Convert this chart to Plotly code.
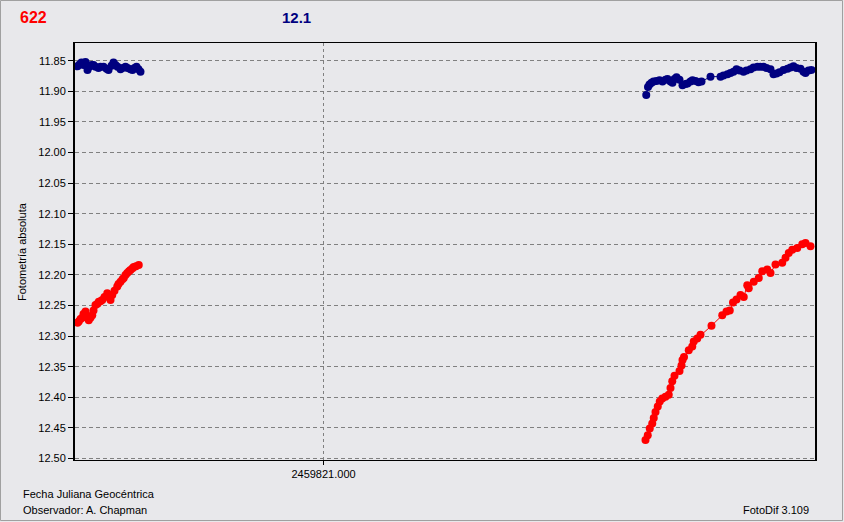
import plotly.graph_objects as go

# Comparison star (blue) and variable (red) photometry, Julian dates
jd_blue_1 = [2459820.9016, 2459820.9024, 2459820.9032, 2459820.9040, 2459820.9048,
             2459820.9056, 2459820.9064, 2459820.9072, 2459820.9080, 2459820.9088,
             2459820.9100, 2459820.9108, 2459820.9120, 2459820.9132, 2459820.9140,
             2459820.9152, 2459820.9160, 2459820.9168, 2459820.9176, 2459820.9188,
             2459820.9196, 2459820.9208, 2459820.9216, 2459820.9228, 2459820.9236,
             2459820.9244, 2459820.9252, 2459820.9260, 2459820.9268]
mag_blue_1 = [11.859, 11.856, 11.853, 11.857, 11.852, 11.865, 11.860, 11.857, 11.857,
              11.860, 11.862, 11.860, 11.860, 11.863, 11.865, 11.858, 11.853, 11.857,
              11.860, 11.864, 11.862, 11.860, 11.862, 11.864, 11.865, 11.862, 11.860,
              11.864, 11.868]

jd_blue_2 = [2459821.1291, 2459821.1298, 2459821.1304, 2459821.1312, 2459821.1320,
             2459821.1332, 2459821.1344, 2459821.1356, 2459821.1368, 2459821.1376,
             2459821.1388, 2459821.1396, 2459821.1404, 2459821.1412, 2459821.1424,
             2459821.1436, 2459821.1448, 2459821.1456, 2459821.1468, 2459821.1476,
             2459821.1488, 2459821.1500, 2459821.1512, 2459821.1548, 2459821.1588,
             2459821.1600, 2459821.1616, 2459821.1628, 2459821.1640, 2459821.1652,
             2459821.1664, 2459821.1680, 2459821.1692, 2459821.1708, 2459821.1720,
             2459821.1736, 2459821.1748, 2459821.1760, 2459821.1772, 2459821.1788,
             2459821.1800, 2459821.1812, 2459821.1824, 2459821.1840, 2459821.1856,
             2459821.1868, 2459821.1880, 2459821.1892, 2459821.1908, 2459821.1920,
             2459821.1928, 2459821.1940, 2459821.1952]
mag_blue_2 = [11.906, 11.893, 11.889, 11.886, 11.884, 11.883, 11.882, 11.884, 11.881,
              11.880, 11.884, 11.886, 11.880, 11.877, 11.881, 11.890, 11.888, 11.887,
              11.884, 11.882, 11.883, 11.885, 11.884, 11.876, 11.876, 11.874, 11.872,
              11.870, 11.868, 11.864, 11.866, 11.868, 11.866, 11.864, 11.861, 11.860,
              11.860, 11.860, 11.862, 11.864, 11.872, 11.871, 11.869, 11.865, 11.863,
              11.861, 11.859, 11.862, 11.863, 11.868, 11.870, 11.866, 11.865]

jd_red_1 = [2459820.9016, 2459820.9021, 2459820.9028, 2459820.9035, 2459820.9040,
            2459820.9048, 2459820.9056, 2459820.9061, 2459820.9068, 2459820.9075,
            2459820.9080, 2459820.9088, 2459820.9096, 2459820.9101, 2459820.9108,
            2459820.9115, 2459820.9124, 2459820.9135, 2459820.9142, 2459820.9148,
            2459820.9155, 2459820.9164, 2459820.9175, 2459820.9180, 2459820.9188,
            2459820.9196, 2459820.9201, 2459820.9208, 2459820.9215, 2459820.9222,
            2459820.9228, 2459820.9236, 2459820.9241, 2459820.9250, 2459820.9261]
mag_red_1 = [12.278, 12.276, 12.272, 12.270, 12.264, 12.260, 12.268, 12.274, 12.270,
             12.266, 12.258, 12.249, 12.247, 12.244, 12.243, 12.241, 12.236, 12.230,
             12.236, 12.241, 12.233, 12.226, 12.219, 12.215, 12.211, 12.207, 12.205,
             12.200, 12.197, 12.194, 12.192, 12.189, 12.187, 12.186, 12.184]

jd_red_2 = [2459821.1288, 2459821.1297, 2459821.1305, 2459821.1315, 2459821.1321,
            2459821.1328, 2459821.1337, 2459821.1345, 2459821.1355, 2459821.1368,
            2459821.1381, 2459821.1388, 2459821.1395, 2459821.1404, 2459821.1424,
            2459821.1432, 2459821.1436, 2459821.1442, 2459821.1461, 2459821.1475,
            2459821.1481, 2459821.1495, 2459821.1508, 2459821.1552, 2459821.1595,
            2459821.1612, 2459821.1625, 2459821.1638, 2459821.1652, 2459821.1668,
            2459821.1681, 2459821.1695, 2459821.1701, 2459821.1721, 2459821.1741,
            2459821.1755, 2459821.1775, 2459821.1788, 2459821.1808, 2459821.1835,
            2459821.1848, 2459821.1861, 2459821.1875, 2459821.1895, 2459821.1915,
            2459821.1928, 2459821.1948]
mag_red_2 = [12.470, 12.462, 12.451, 12.443, 12.434, 12.424, 12.415, 12.407, 12.402,
             12.399, 12.396, 12.385, 12.374, 12.365, 12.357, 12.348, 12.339, 12.334,
             12.323, 12.317, 12.309, 12.304, 12.298, 12.283, 12.266, 12.260, 12.258,
             12.245, 12.240, 12.233, 12.236, 12.217, 12.222, 12.211, 12.205, 12.194,
             12.191, 12.197, 12.183, 12.180, 12.172, 12.164, 12.159, 12.156, 12.150,
             12.148, 12.153]

x_tick_vals = [2459821.0]
x_tick_text = ["2459821.000"]
x_range = [2459820.9006, 2459821.1966]
y_range = [12.5025, 11.821]

BLUE = "#000080"
RED = "#ff0000"
BG = "#e8e8eb"
FONT = "Liberation Sans"

fig = go.Figure()
for xs, ys, c in [(jd_blue_1, mag_blue_1, BLUE), (jd_blue_2, mag_blue_2, BLUE),
                  (jd_red_1, mag_red_1, RED), (jd_red_2, mag_red_2, RED)]:
    fig.add_trace(go.Scatter(x=xs, y=ys, mode="lines+markers",
                             line=dict(color=c, width=1),
                             marker=dict(color=c, size=8, symbol="circle"),
                             showlegend=False, hoverinfo="x+y"))

L, R, T, B = 75, 815, 43, 460
W, H = 844, 522
def px(x):
    return (x - L) / (R - L)
def py(y):
    return (B - y) / (B - T)

fig.update_layout(
    width=W, height=H, autosize=False,
    margin=dict(l=L, r=W - R, t=T, b=H - B, pad=0),
    paper_bgcolor=BG, plot_bgcolor=BG,
    font=dict(family=FONT, size=11, color="#000000"),
    xaxis=dict(range=x_range, tickvals=x_tick_vals, ticktext=x_tick_text,
               showgrid=True, gridcolor="#808080", griddash="3px,3px", gridwidth=1,
               zeroline=False, showline=True, linecolor="#000000", linewidth=1,
               mirror=True, ticks="outside", ticklen=4, tickcolor="#000000",
               tickfont=dict(family=FONT, size=11)),
    yaxis=dict(range=y_range, dtick=0.05, tick0=11.85, tickformat=".2f",
               showgrid=True, gridcolor="#808080", griddash="4px,3px", gridwidth=1,
               zeroline=False, showline=True, linecolor="#000000", linewidth=2,
               mirror=True, ticks="outside", ticklen=5, tickcolor="#000000",
               tickfont=dict(family=FONT, size=11)),
)

ann = [
    dict(text="<b>622</b>", x=px(18), y=py(18), xanchor="left", yanchor="middle",
         font=dict(family=FONT, size=16, color=RED)),
    dict(text="<b>12.1</b>", x=px(280), y=py(18), xanchor="left", yanchor="middle",
         font=dict(family=FONT, size=15, color=BLUE)),
    dict(text="Fotometría absoluta", x=px(22), y=py(252), xanchor="center", yanchor="middle",
         textangle=-90, font=dict(family=FONT, size=11, color="#000000")),
    dict(text="Fecha Juliana Geocéntrica", x=px(21), y=py(494), xanchor="left", yanchor="middle",
         font=dict(family=FONT, size=11, color="#000000")),
    dict(text="Observador: A. Chapman", x=px(21), y=py(510), xanchor="left", yanchor="middle",
         font=dict(family=FONT, size=11, color="#000000")),
    dict(text="FotoDif 3.109", x=px(811), y=py(510), xanchor="right", yanchor="middle",
         font=dict(family=FONT, size=11, color="#000000")),
]
for a in ann:
    a.update(xref="paper", yref="paper", showarrow=False)
fig.update_layout(annotations=ann)

fig.add_shape(type="rect", xref="paper", yref="paper",
              x0=px(0.5), x1=px(842.5), y0=py(520.5), y1=py(0.5),
              line=dict(color="#a0a0a0", width=1), fillcolor="rgba(0,0,0,0)", layer="above")

fig.write_html("out.html", config={"displayModeBar": False},
               post_script="document.body.style.margin='0px';document.body.style.padding='0px';")
